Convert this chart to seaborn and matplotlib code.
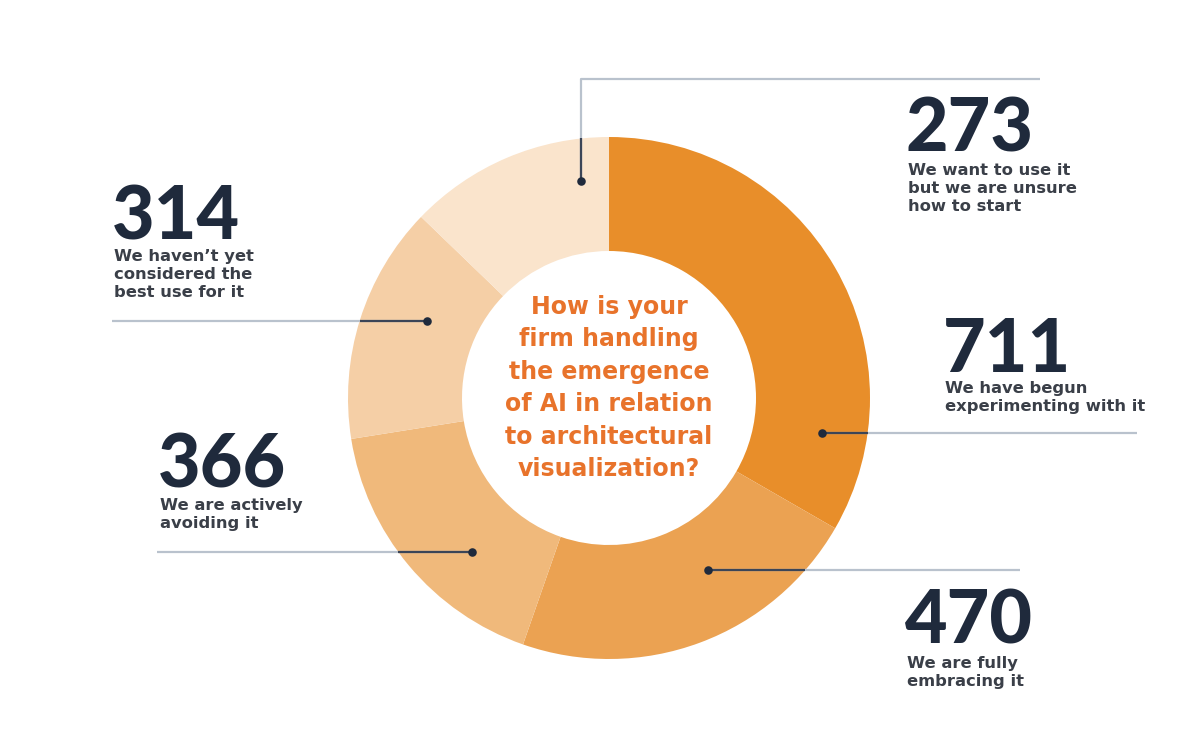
import matplotlib
matplotlib.use("Agg")
import matplotlib.pyplot as plt
import seaborn as sns
import numpy as np

# ---- data ----
counts = [711, 470, 366, 314, 273]
labels = [
    "We have begun\nexperimenting with it",
    "We are fully\nembracing it",
    "We are actively\navoiding it",
    "We haven\u2019t yet\nconsidered the\nbest use for it",
    "We want to use it\nbut we are unsure\nhow to start",
]
colors = ["#E88E2A", "#EBA252", "#F0B97B", "#F5CFA6", "#FAE4CC"]
question = ("How is your\nfirm handling\nthe emergence\nof AI in relation\n"
            "to architectural\nvisualization?")

sns.set_theme(style="white")
plt.rcParams["font.family"] = ["Lato", "DejaVu Sans"]

W, H = 1200, 731
fig = plt.figure(figsize=(12, 7.31), dpi=100)
ax = fig.add_axes([0, 0, 1, 1])

def Y(y):
    return H - y

cx, cy, R, ring = 609, Y(398), 261, 114
ax.pie(counts, colors=colors, startangle=90, counterclock=False,
       center=(cx, cy), radius=R, frame=True,
       wedgeprops=dict(width=ring, linewidth=0))
ax.set_xlim(0, W)
ax.set_ylim(0, H)
ax.set_aspect("equal")
ax.axis("off")

navy = "#1F2A3C"
gray_line = "#B9C2CD"
dark_line = "#3B4557"
sub_col = "#3A3F48"

leaders = [
    dict(dot=(822, 433), path=[(822, 433), (1137, 433)]),            # 711
    dict(dot=(708, 570), path=[(708, 570), (1020, 570)]),            # 470
    dict(dot=(472, 552), path=[(472, 552), (157, 552)]),             # 366
    dict(dot=(427, 321), path=[(427, 321), (112, 321)]),             # 314
    dict(dot=(581, 181), path=[(581, 181), (581, 79), (1040, 79)]),  # 273
]

def outer_cross(p0, p1):
    x0, y0 = p0
    x1, y1 = p1
    for t in np.linspace(0, 1, 2001):
        x = x0 + (x1 - x0) * t
        y = y0 + (y1 - y0) * t
        if (x - cx) ** 2 + (y - 398) ** 2 > R ** 2:
            return (x, y)
    return p1

for ld in leaders:
    pts = ld["path"]
    xs = [p[0] for p in pts]
    ys = [Y(p[1]) for p in pts]
    ax.plot(xs, ys, color=gray_line, lw=1.6, solid_capstyle="butt", zorder=3)
    cross = outer_cross(pts[0], pts[1])
    ax.plot([pts[0][0], cross[0]], [Y(pts[0][1]), Y(cross[1])],
            color=dark_line, lw=1.6, solid_capstyle="butt", zorder=4)
    ax.scatter([ld["dot"][0]], [Y(ld["dot"][1])], s=38, color=navy, zorder=5,
               linewidths=0)

# number baseline y, description top y
blocks = [
    (943, 372, 381),   # 711
    (905, 644, 656),   # 470
    (158, 487, 498),   # 366
    (112, 239, 249),   # 314
    (906, 152, 163),   # 273
]
for (x, by, dy), n, lab in zip(blocks, counts, labels):
    ax.text(x, Y(by), str(n), fontsize=53, fontweight="black", color=navy,
            ha="left", va="baseline", zorder=6)
    ax.text(x + 2, Y(dy), lab, fontsize=11.8, fontweight="bold", color=sub_col,
            family="DejaVu Sans", ha="left", va="top", linespacing=1.27,
            zorder=6)

ax.text(cx, Y(388), question, fontsize=17, fontweight="bold",
        family="DejaVu Sans", color="#E8732B", ha="center", va="center",
        linespacing=1.45, zorder=6)

fig.savefig("out.png", dpi=100, facecolor="white")
